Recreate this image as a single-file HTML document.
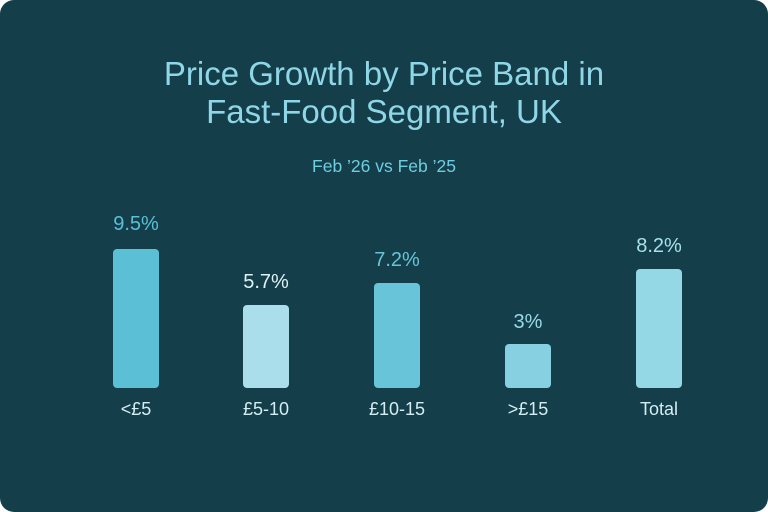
<!DOCTYPE html>
<html><head><style>
html,body{margin:0;padding:0;background:#fff;}
.card{position:absolute;left:0;top:0;width:768px;height:512px;border-radius:14px;background:#133e4a;overflow:hidden;font-family:"Liberation Sans",sans-serif;}
.t{position:absolute;left:0;width:768px;text-align:center;color:#8fd6e6;}
.bar{position:absolute;width:46px;border-radius:4px;bottom:124px;}
.v{position:absolute;width:100px;text-align:center;font-size:20px;}
.c{position:absolute;width:100px;text-align:center;font-size:18px;color:#d4edf3;top:399px;}
</style></head><body>
<div class="card">
<div class="t" style="top:55px;font-size:33px;line-height:38px;">Price Growth by Price Band in<br>Fast-Food Segment, UK</div>
<div class="t" style="top:156px;font-size:17.5px;color:#6fcde0;">Feb ’26 vs Feb ’25</div>

<div class="bar" style="left:113px;top:249px;background:#5bbfd6"></div>
<div class="bar" style="left:243px;top:305px;background:#aadeeb"></div>
<div class="bar" style="left:374px;top:283px;background:#67c4d9"></div>
<div class="bar" style="left:505px;top:344px;background:#86d0e1"></div>
<div class="bar" style="left:636px;top:269px;background:#94d7e5"></div>

<div class="v" style="left:86px;top:213px;color:#5bbfd6">9.5%</div>
<div class="v" style="left:216px;top:271px;color:#e0f2f6">5.7%</div>
<div class="v" style="left:347px;top:249px;color:#67c4d9">7.2%</div>
<div class="v" style="left:478px;top:311px;color:#9ad9e6">3%</div>
<div class="v" style="left:609px;top:235px;color:#a8e0eb">8.2%</div>

<div class="c" style="left:86px">&lt;£5</div>
<div class="c" style="left:216px">£5-10</div>
<div class="c" style="left:347px">£10-15</div>
<div class="c" style="left:478px">&gt;£15</div>
<div class="c" style="left:609px">Total</div>
</div>
</body></html>
